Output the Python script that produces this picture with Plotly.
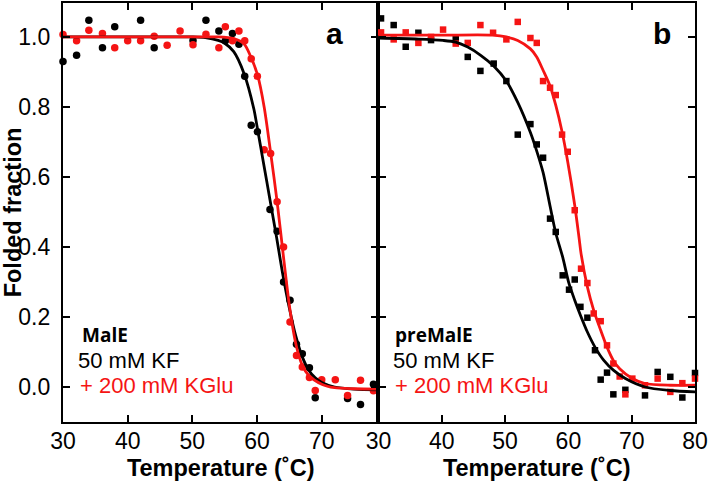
import plotly.graph_objects as go

# ---------------- data ----------------
# Panel a: MalE
a_x_black = [30.0, 32.1, 34.0, 36.1, 38.0, 42.0, 44.1, 50.1, 52.1, 54.1, 55.1, 56.2, 57.2, 58.1,
             59.1, 60.05, 62.0, 63.1, 64.1, 65.1, 66.1, 67.0, 68.1, 69.0, 74.0, 76.0, 78.0]
a_y_black = [0.93, 0.948, 1.048, 0.969, 1.029, 1.048, 0.969, 0.99, 1.048, 1.017, 0.989, 1.01, 0.979, 0.888,
             0.748, 0.729, 0.507, 0.445, 0.30, 0.248, 0.122, 0.095, 0.055, -0.031, -0.033, -0.05, 0.008]
a_x_red = [30.0, 32.1, 34.0, 36.1, 38.0, 40.0, 42.0, 44.1, 46.1, 48.1, 50.1, 52.1, 54.1, 55.1, 56.2,
           57.2, 58.1, 59.1, 60.05, 61.1, 62.1, 63.1, 64.1, 65.1, 66.1, 67.0, 68.1, 69.0, 70.0, 72.1,
           74.0, 76.0, 78.0]
a_y_red = [1.007, 0.989, 1.019, 1.01, 0.969, 0.989, 0.989, 1.002, 0.976, 1.017, 0.978, 1.008, 0.969, 1.029, 0.989,
           1.017, 0.989, 0.938, 0.888, 0.678, 0.667, 0.529, 0.40, 0.186, 0.09, 0.057, 0.027, -0.01, 0.021, 0.021,
           -0.024, 0.019, -0.011]
a_fit_x_black = [30, 40, 50, 52, 54, 55, 56.4, 58, 59.5, 60, 61, 62, 63, 64, 65, 66, 67, 68, 69, 70, 72, 75, 78.8]
a_fit_y_black = [1.0, 1.0, 1.0, 0.998, 0.99, 0.982, 0.958, 0.895, 0.795, 0.745, 0.64, 0.535, 0.43, 0.32,
                 0.225, 0.145, 0.086, 0.048, 0.026, 0.013, 0.0, -0.006, -0.008]
a_fit_x_red = [30, 40, 50, 54, 56.4, 58, 59, 60.1, 61.1, 62.1, 63.1, 64.1, 65.1, 66.1, 67, 68, 70, 72, 75, 78.8]
a_fit_y_red = [1.0, 1.0, 1.0, 1.0, 0.995, 0.98, 0.945, 0.89, 0.80, 0.67, 0.53, 0.37, 0.22, 0.115,
               0.062, 0.033, 0.008, -0.002, -0.005, -0.006]

# Panel b: preMalE
b_x_black = [30.4, 32.4, 34.3, 36.3, 38.3, 42.2, 44.1, 46.1, 48.2, 50.2, 52.0, 54.0, 55.0, 56.0, 57.1,
             58.0, 59.1, 60.1, 61.0, 61.9, 63.0, 64.2, 65.1, 66.1, 67.1, 69.0, 72.1, 74.1, 76.1, 78.0, 80.0]
b_y_black = [1.053, 1.034, 0.972, 1.012, 0.991, 0.994, 0.943, 0.903, 0.924, 0.874, 0.721, 0.751, 0.693, 0.655,
             0.481, 0.443, 0.319, 0.278, 0.307, 0.229, 0.198, 0.105, 0.021, 0.041, -0.021, -0.008, -0.024,
             0.043, 0.029, -0.03, 0.04]
b_x_red = [30.4, 32.4, 34.3, 36.3, 38.3, 40.2, 42.2, 44.1, 46.1, 48.1, 50.2, 52.0, 54.0, 55.0, 56.0, 57.1,
           58.0, 59.0, 59.9, 61.0, 62.0, 63.0, 64.0, 65.1, 66.1, 67.1, 68.1, 69.0, 70.1, 72.1, 74.1, 76.1,
           78.0, 80.0]
b_y_red = [1.013, 0.993, 1.013, 0.983, 1.0, 1.021, 0.981, 0.983, 1.034, 1.012, 0.993, 1.043, 0.997, 0.983,
           0.874, 0.855, 0.834, 0.721, 0.672, 0.505, 0.338, 0.297, 0.21, 0.188, 0.119, 0.067, 0.03, -0.021,
           0.024, 0.005, 0.024, -0.014, 0.011, 0.024]
b_fit_x_black = [30, 36.3, 40.2, 42.2, 44.1, 46.2, 48.2, 50.2, 52, 54, 55, 56, 57.1, 58, 59.1, 60.1, 61,
                 61.9, 63, 64.2, 65.6, 67.1, 69, 72.1, 76.1, 80]
b_fit_y_black = [0.997, 0.994, 0.99, 0.985, 0.971, 0.947, 0.917, 0.874, 0.813, 0.727, 0.674, 0.613, 0.517,
                 0.44, 0.371, 0.295, 0.248, 0.205, 0.157, 0.114, 0.076, 0.048, 0.024, 0.0, -0.01, -0.014]
b_fit_x_red = [30, 40, 48, 50.2, 52, 54, 55, 56, 57.1, 58, 59, 59.9, 61, 61.7, 62, 63, 64, 65.1, 66.1,
               67.1, 68.1, 70.1, 72.1, 76.1, 80]
b_fit_y_red = [1.005, 1.005, 1.005, 1.0, 0.99, 0.966, 0.943, 0.905, 0.86, 0.805, 0.729, 0.643, 0.519,
               0.424, 0.381, 0.286, 0.219, 0.162, 0.114, 0.076, 0.052, 0.024, 0.01, 0.005, 0.005]

x_ticks_a = [30, 40, 50, 60, 70]
x_ticks_b = [30, 40, 50, 60, 70, 80]
y_ticks = [0.0, 0.2, 0.4, 0.6, 0.8, 1.0]

# ---------------- styles ----------------
BLACK = "#000000"
RED = "#f51414"
TICKFONT = dict(family="Liberation Sans, Arial", size=23, color="#000")
TITLEFONT = dict(family="Liberation Sans, Arial", size=23.5, color="#000", weight="bold")

fig = go.Figure()

def add_panel(xa, ya, xb, yb, fxb, fyb, xr, yr, fxr, fyr, symbol, size):
    fig.add_trace(go.Scatter(x=xb, y=yb, mode="markers", xaxis=xa, yaxis=ya, cliponaxis=False,
                             marker=dict(symbol=symbol, size=size, color=BLACK, line=dict(width=0)),
                             showlegend=False))
    fig.add_trace(go.Scatter(x=xr, y=yr, mode="markers", xaxis=xa, yaxis=ya, cliponaxis=False,
                             marker=dict(symbol=symbol, size=size, color=RED, line=dict(width=0)),
                             showlegend=False))
    fig.add_trace(go.Scatter(x=fxb, y=fyb, mode="lines", xaxis=xa, yaxis=ya,
                             line=dict(color=BLACK, width=2.8, shape="spline", smoothing=0.8),
                             showlegend=False))
    fig.add_trace(go.Scatter(x=fxr, y=fyr, mode="lines", xaxis=xa, yaxis=ya,
                             line=dict(color=RED, width=2.8, shape="spline", smoothing=0.8),
                             showlegend=False))

add_panel("x", "y", a_x_black, a_y_black, a_fit_x_black, a_fit_y_black,
          a_x_red, a_y_red, a_fit_x_red, a_fit_y_red, "circle", 7.5)
add_panel("x2", "y2", b_x_black, b_y_black, b_fit_x_black, b_fit_y_black,
          b_x_red, b_y_red, b_fit_x_red, b_fit_y_red, "square", 6.5)

split = 0.4992
common_x = dict(ticks="inside", ticklen=7, tickwidth=2, tickcolor="#000", showline=True,
                linewidth=2.2, linecolor="#000", mirror="ticks", showgrid=False, zeroline=False,
                tickfont=TICKFONT, ticklabelstandoff=-3, automargin=False)
common_y = dict(ticks="inside", ticklen=7, tickwidth=2, tickcolor="#000", showline=True,
                linewidth=2.2, linecolor="#000", mirror="ticks", showgrid=False, zeroline=False,
                tickfont=TICKFONT, range=[-0.1, 1.097], tickvals=y_ticks, tickformat=".1f",
                automargin=False)

fig.update_layout(
    width=709, height=482,
    margin=dict(l=63, r=14, t=3, b=60, autoexpand=False),
    paper_bgcolor="white", plot_bgcolor="white",
    xaxis=dict(domain=[0, split], range=[30, 78.78], tickvals=x_ticks_a, anchor="y",
               title=dict(text="Temperature (˚C)", font=TITLEFONT, standoff=7), **common_x),
    xaxis2=dict(domain=[split, 1], range=[30, 80], tickvals=x_ticks_b, anchor="y2",
                title=dict(text="Temperature (˚C)", font=TITLEFONT, standoff=7), **common_x),
    yaxis=dict(domain=[0, 1], anchor="x", ticklabelstandoff=6,
               title=dict(text="Folded fraction", font=TITLEFONT, standoff=3), **common_y),
    yaxis2=dict(domain=[0, 1], anchor="x2", matches="y", showticklabels=False, **common_y),
)

ann_font_reg = dict(family="Liberation Sans, Arial", size=22)
ann_font_bold = dict(family="Open Sans, Liberation Sans", size=19, color="#000", weight="bold")

annotations = [
    dict(text="a", x=0.4296, y=0.928, font=dict(family="Liberation Sans, Arial", size=30, color="#000", weight="bold"),
         xanchor="center", yanchor="middle"),
    dict(text="b", x=0.948, y=0.928, font=dict(family="Liberation Sans, Arial", size=30, color="#000", weight="bold"),
         xanchor="center", yanchor="middle"),
    dict(text="MalE", x=0.0269, y=0.2076, font=ann_font_bold, xanchor="left", yanchor="middle"),
    dict(text="50 mM KF", x=0.0206, y=0.1463, font=dict(color="#000", **ann_font_reg), xanchor="left", yanchor="middle"),
    dict(text="+ 200 mM KGlu", x=0.0237, y=0.0883, font=dict(color=RED, **ann_font_reg), xanchor="left", yanchor="middle"),
    dict(text="preMalE", x=0.522, y=0.2076, font=ann_font_bold, xanchor="left", yanchor="middle"),
    dict(text="50 mM KF", x=0.519, y=0.1463, font=dict(color="#000", **ann_font_reg), xanchor="left", yanchor="middle"),
    dict(text="+ 200 mM KGlu", x=0.522, y=0.0883, font=dict(color=RED, **ann_font_reg), xanchor="left", yanchor="middle"),
]
for a in annotations:
    a.update(xref="paper", yref="paper", showarrow=False)
fig.update_layout(annotations=annotations)

fig.write_html("out.html", config={"displayModeBar": False},
               post_script="document.body.style.margin='0px';document.body.style.overflow='hidden';")
